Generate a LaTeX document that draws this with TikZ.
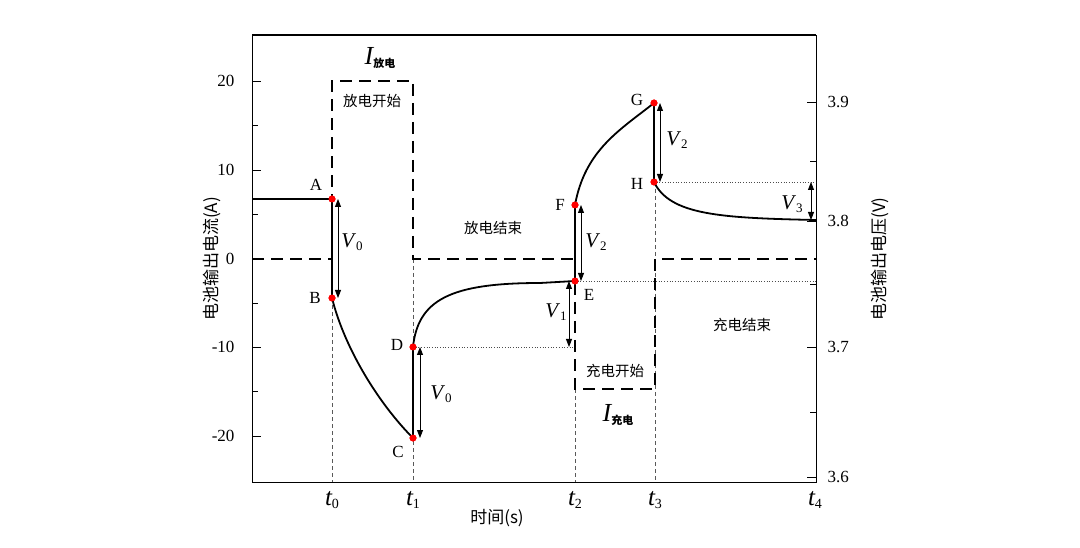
\documentclass[tikz,border=0pt]{standalone}
\usepackage{fontspec}
\setmainfont{Liberation Serif}
\newfontfamily\cjk{Noto Sans CJK SC}
\usetikzlibrary{arrows.meta}
\begin{document}
\begin{tikzpicture}[x=1pt,y=-1pt,
  volt/.style={line width=1.8pt},
  curr/.style={line width=1.8pt,dash pattern=on 12pt off 7pt},
  guide/.style={line width=0.6pt,dash pattern=on 4pt off 3pt,gray!70!black},
  dotl/.style={line width=0.7pt,dotted,gray!60!black},
  dim/.style={line width=0.9pt,{Triangle[length=8pt,width=6pt]}-{Triangle[length=8pt,width=6pt]}},
  pt/.style={circle,fill=red,inner sep=0pt,minimum size=7pt},
  lab/.style={font=\fontsize{17}{17}\selectfont},
  vl/.style={font=\fontsize{21}{21}\selectfont},
  cn/.style={font=\cjk\fontsize{14.5}{14.5}\selectfont},
  tick/.style={font=\fontsize{17}{17}\selectfont}]
\useasboundingbox (0,0) rectangle (1080,548);
% frame
\draw[line width=0.9pt] (252,35) rectangle (816,482);
\draw[line width=2.4pt] (252,35) -- (816,35);
% left ticks
\foreach \y/\l in {81/20,170/10,259/0,347/-10,436/-20}{
  \draw[line width=0.9pt] (252,\y) -- (261,\y);
  \node[tick,anchor=east] at (238,\y) {\l};}
\foreach \y in {125.5,214.5,303,391.5}{\draw[line width=0.9pt] (252,\y) -- (258,\y);}
% right ticks
\foreach \y/\l in {102/3.9,221/3.8,347/3.7,477/3.6}{
  \draw[line width=0.9pt] (816,\y) -- (807,\y);
  \node[tick,anchor=west] at (824,\y) {\l};}
\foreach \y in {161.5,284,412}{\draw[line width=0.9pt] (816,\y) -- (810,\y);}
% t labels
\foreach \x/\i in {332/0,413/1,575/2,655/3,815/4}{
  \node[font=\fontsize{25}{25}\selectfont\itshape] at (\x,500) {t\raisebox{-0.3ex}{\fontsize{14}{14}\selectfont\upshape\i}};}
\node[font=\cjk\fontsize{17}{17}\selectfont] at (497,518) {时间(s)};
\node[font=\cjk\fontsize{17}{17}\selectfont,rotate=90] at (212,259) {电池输出电流(A)};
\node[font=\cjk\fontsize{17}{17}\selectfont,rotate=90] at (880,259) {电池输出电压(V)};
% guides
\draw[guide] (332,298) -- (332,482);
\draw[guide] (413,259) -- (413,482);
\draw[guide] (575,389) -- (575,482);
\draw[guide] (655,182) -- (655,482);
% current waveform
\draw[curr] (252,259) -- (332,259) -- (332,81) -- (413,81) -- (413,259) -- (575,259) -- (575,389) -- (655,389) -- (655,259) -- (816,259);
% points
\node[pt] (A) at (332,199) {};
\node[pt] (B) at (332,298) {};
\node[pt] (C) at (413,438) {};
\node[pt] (D) at (413,347) {};
\node[pt] (E) at (575,281) {};
\node[pt] (F) at (575,205) {};
\node[pt] (G) at (654,103) {};
\node[pt] (H) at (654,182) {};
\coordinate (L0) at (252,199);
\coordinate (R0) at (816,220);
\coordinate (De) at (575,347);
\coordinate (Ee) at (816,281);
\coordinate (He) at (816,182);
% dotted lines
\draw[dotl] (D.center) -- (De);
\draw[dotl] (E.center) -- (Ee);
\draw[dotl] (H.center) -- (He);
% voltage
\draw[volt] (L0) -- (A.center) -- (B.center)
  .. controls (345,350) and (380,405) .. (C.center) -- (D.center)
  .. controls (418,300) and (450,283) .. (540,283) -- (E.center) -- (F.center)
  .. controls (585,150) and (620,130) .. (G.center) -- (H.center)
  .. controls (670,215) and (720,218) .. (R0);
\foreach \n in {A,B,C,D,E,F,G,H}{\node[pt] at (\n) {};}
% dimension arrows
\draw[dim] (338,199) -- (338,298);
\draw[dim] (420,347) -- (420,438);
\draw[dim] (569,281) -- (569,347);
\draw[dim] (581,205) -- (581,281);
\draw[dim] (660,103) -- (660,182);
\draw[dim] (811,182) -- (811,220);
% point labels
\node[lab] at (316,185) {A};
\node[lab] at (315,298) {B};
\node[lab] at (398,452) {C};
\node[lab] at (397,345) {D};
\node[lab] at (589,295) {E};
\node[lab] at (560,205) {F};
\node[lab] at (637,100) {G};
\node[lab] at (637,184) {H};
\newcommand\vlab[1]{\textit{V}\raisebox{-0.3ex}{\fontsize{13}{13}\selectfont #1}}
\node[vl] at (352,242) {\vlab{0}};
\node[vl] at (441,394) {\vlab{0}};
\node[vl] at (556,312) {\vlab{1}};
\node[vl] at (596,242) {\vlab{2}};
\node[vl] at (677,140) {\vlab{2}};
\node[vl] at (792,204) {\vlab{3}};
% texts
\node[cn] at (372,101) {放电开始};
\node[cn] at (493,228) {放电结束};
\node[cn] at (615,371) {充电开始};
\node[cn] at (742,325) {充电结束};
\node[font=\fontsize{26}{26}\selectfont\itshape] at (380,58) {I\raisebox{-0.2ex}{\cjk\upshape\bfseries\fontsize{11}{11}\selectfont 放电}};
\node[font=\fontsize{26}{26}\selectfont\itshape] at (618,415) {I\raisebox{-0.2ex}{\cjk\upshape\bfseries\fontsize{11}{11}\selectfont 充电}};
\end{tikzpicture}
\end{document}
